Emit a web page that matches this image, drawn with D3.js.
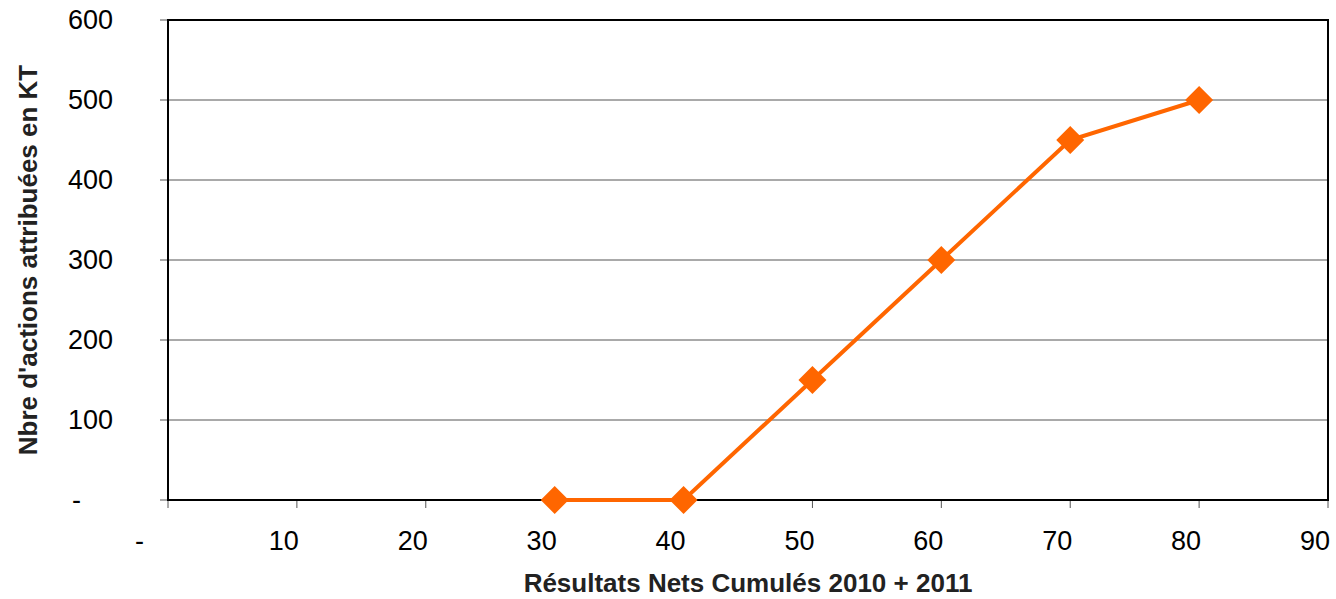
<!DOCTYPE html>
<html>
<head>
<meta charset="utf-8">
<script src="https://cdn.jsdelivr.net/npm/d3@7"></script>
<style>
  body { margin: 0; background: #fff; }
  text { font-family: "Liberation Sans", Arial, sans-serif; }
</style>
</head>
<body>
<script>
// data
const results = [30, 40, 50, 60, 70, 80];
const shares = [0, 0, 150, 300, 450, 500];
const xTicks = [0, 10, 20, 30, 40, 50, 60, 70, 80, 90];
const yTicks = [0, 100, 200, 300, 400, 500, 600];
const xTitle = "Résultats Nets Cumulés 2010 + 2011";
const yTitle = "Nbre d'actions attribuées en KT";

const canvasW = 1336, canvasH = 599;
const margin = {top: 20, right: 8, bottom: 99, left: 168};
const orange = "#ff6600";

const svg = d3.select("body").append("svg")
  .attr("width", canvasW)
  .attr("height", canvasH);

const x = d3.scaleLinear().domain([0, 90]).range([margin.left, canvasW - margin.right]);
const y = d3.scaleLinear().domain([0, 600]).range([canvasH - margin.bottom, margin.top]);

// horizontal grid + outer y ticks
svg.append("g").selectAll("line")
  .data(yTicks)
  .join("line")
    .attr("x1", margin.left - 8)
    .attr("x2", canvasW - margin.right)
    .attr("y1", d => y(d))
    .attr("y2", d => y(d))
    .attr("stroke", "#555")
    .attr("stroke-width", 1);

// x ticks
svg.append("g").selectAll("line")
  .data(xTicks)
  .join("line")
    .attr("x1", d => x(d))
    .attr("x2", d => x(d))
    .attr("y1", y(0))
    .attr("y2", y(0) + 8)
    .attr("stroke", "#555")
    .attr("stroke-width", 1);

// plot frame
svg.append("rect")
  .attr("x", x(0))
  .attr("y", y(600))
  .attr("width", x(90) - x(0))
  .attr("height", y(0) - y(600))
  .attr("fill", "none")
  .attr("stroke", "#000")
  .attr("stroke-width", 2);

// y tick labels (zero is shown as "-")
svg.append("g").selectAll("text")
  .data(yTicks)
  .join("text")
    .attr("x", d => d === 0 ? 81 : 113)
    .attr("y", d => y(d))
    .attr("dy", "0.35em")
    .attr("text-anchor", "end")
    .attr("font-size", "27px")
    .attr("fill", "#000")
    .text(d => d === 0 ? "-" : d);

// x tick labels
svg.append("g").selectAll("text")
  .data(xTicks)
  .join("text")
    .attr("x", d => d === 0 ? x(0) - 24 : x(d) + 2)
    .attr("y", y(0) + 50)
    .attr("text-anchor", "end")
    .attr("font-size", "27px")
    .attr("fill", "#000")
    .text(d => d === 0 ? "-" : d);

// series
const pts = results.map((r, i) => [r, shares[i]]);

svg.append("path")
  .datum(pts)
  .attr("fill", "none")
  .attr("stroke", orange)
  .attr("stroke-width", 4)
  .attr("d", d3.line().x(d => x(d[0])).y(d => y(d[1])));

svg.append("g").selectAll("path")
  .data(pts)
  .join("path")
    .attr("transform", d => "translate(" + x(d[0]) + "," + y(d[1]) + ")")
    .attr("d", "M0,-14L14,0L0,14L-14,0Z")
    .attr("fill", orange);

// axis titles
svg.append("text")
  .attr("x", (x(0) + x(90)) / 2)
  .attr("y", 592)
  .attr("text-anchor", "middle")
  .attr("font-size", "26px")
  .attr("font-weight", "bold")
  .attr("fill", "#222")
  .text(xTitle);

svg.append("text")
  .attr("transform", "translate(37," + ((y(0) + y(600)) / 2) + ") rotate(-90)")
  .attr("text-anchor", "middle")
  .attr("font-size", "26px")
  .attr("font-weight", "bold")
  .attr("fill", "#222")
  .text(yTitle);
</script>
</body>
</html>
